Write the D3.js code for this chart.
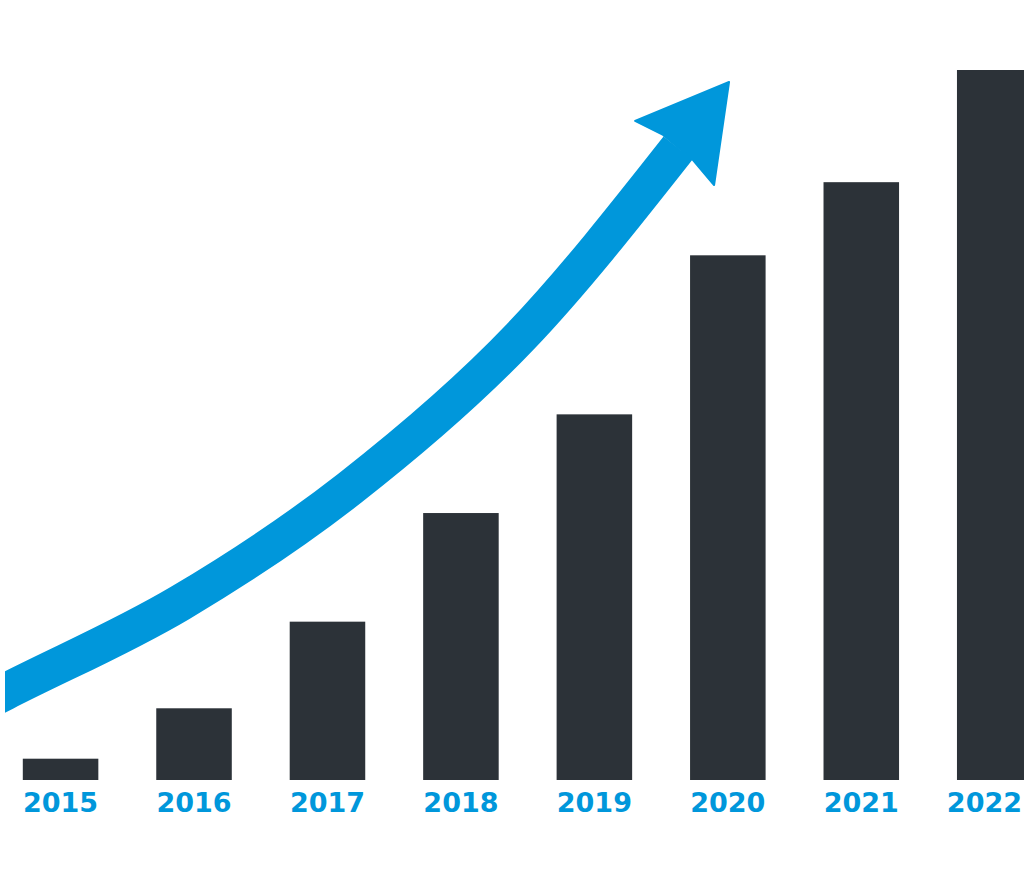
<!DOCTYPE html>
<html>
<head>
<meta charset="utf-8">
<script src="https://cdn.jsdelivr.net/npm/d3@7"></script>
<style>
html,body{margin:0;padding:0;background:#fff;}
svg{display:block;}
</style>
</head>
<body>
<script>
// ---- data ----
const years = ["2015","2016","2017","2018","2019","2020","2021","2022"];
const values = [3.0, 10.1, 22.3, 37.6, 51.5, 73.9, 84.2, 100];
// trend arrow shaft in data space: [year position, value]
const trendYears  = [2014.32, 2014.584, 2015.895, 2017.169, 2018.443, 2019.627];
const trendValues = [9.86,    12.4,     24.93,    41.13,    62.39,    89.01];
// arrow head in data space
const headYears  = [2020.009, 2019.305, 2019.515, 2019.739, 2019.897];
const headValues = [98.31,    92.82,    90.85,    87.32,    83.80];

const W = 1024, H = 887;
const barColor = "#2c3238";
const blue = "#0097db";

const svg = d3.select("body").append("svg").attr("width", W).attr("height", H);

const x = d3.scaleBand().domain(years).range([22.8, 1032.5]).paddingInner(0.434).paddingOuter(0);
const y = d3.scaleLinear().domain([0, 100]).range([780, 70]);
const xc = d3.scaleLinear().domain([2015, 2022])
  .range([x("2015") + x.bandwidth()/2, x("2022") + x.bandwidth()/2]);

// bars
svg.append("g").selectAll("rect").data(years).join("rect")
  .attr("x", d => x(d))
  .attr("y", (d,i) => y(values[i]))
  .attr("width", x.bandwidth())
  .attr("height", (d,i) => y(0) - y(values[i]))
  .attr("fill", barColor);

// labels via axis
const axis = d3.axisBottom(x).tickSize(0).tickPadding(0);
const ag = svg.append("g").attr("transform", `translate(0,${y(0)})`).call(axis);
ag.select(".domain").remove();
ag.selectAll("text")
  .attr("dy", null)
  .attr("y", 32)
  .attr("fill", blue)
  .attr("font-family", "'DejaVu Sans', sans-serif")
  .attr("font-weight", "bold")
  .attr("font-size", 27)
  .attr("text-anchor", "middle");
// keep labels inside the picture
ag.selectAll(".tick").each(function() {
  const t = d3.select(this).select("text");
  const bb = this.getBBox();
  const m = this.transform.baseVal.consolidate().matrix;
  const right = m.e + bb.x + bb.width;
  if (right > W - 2) t.attr("x", (W - 2) - right);
});

// arrow
svg.append("clipPath").attr("id", "clipL").append("rect")
  .attr("x", 5).attr("y", 0).attr("width", W).attr("height", H);

const pts = trendYears.map((t, i) => [xc(t), y(trendValues[i])]);
const line = d3.line().curve(d3.curveMonotoneX);
svg.append("path")
  .attr("d", line(pts))
  .attr("fill", "none")
  .attr("stroke", blue)
  .attr("stroke-width", 37)
  .attr("clip-path", "url(#clipL)");

const head = headYears.map((t, i) => [xc(t), y(headValues[i])]);
svg.append("path")
  .attr("d", "M" + head.map(p => p.join(",")).join("L") + "Z")
  .attr("fill", blue)
  .attr("stroke", blue)
  .attr("stroke-width", 2)
  .attr("stroke-linejoin", "round");
</script>
</body>
</html>
